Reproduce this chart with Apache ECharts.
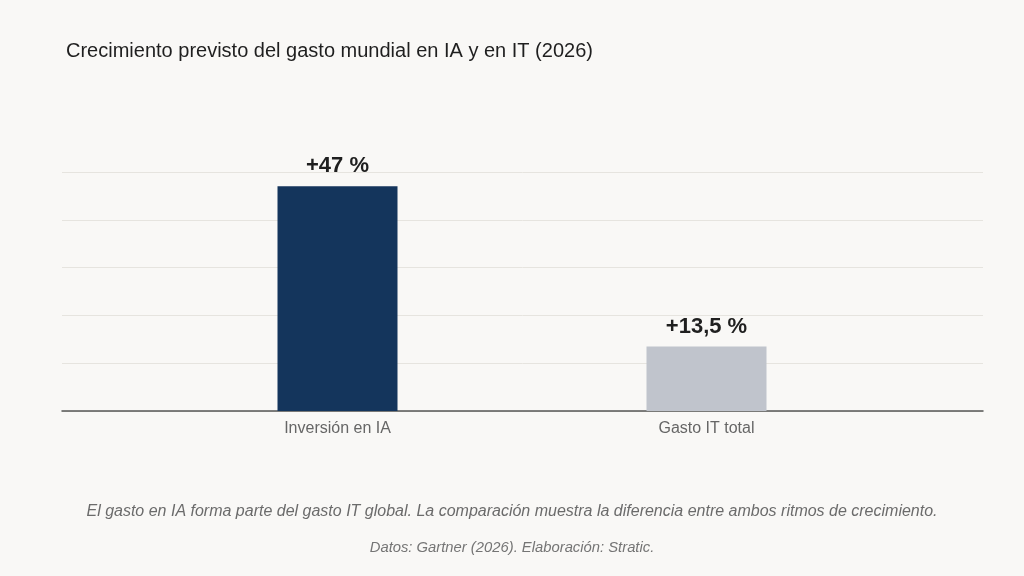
<!DOCTYPE html>
<html>
<head>
<meta charset="utf-8">
<script src="https://cdn.jsdelivr.net/npm/echarts@6/dist/echarts.min.js"></script>
<style>
  html, body { margin: 0; padding: 0; background: #f9f8f6; }
  #chart { width: 1024px; height: 576px; }
</style>
</head>
<body>
<div id="chart"></div>
<script>
var categories = ['Inversión en IA', 'Gasto IT total'];
var values = [47, 13.5];
var valueLabels = ['+47 %', '+13,5 %'];
var barColors = ['#14355c', '#c0c4cc'];
var yTicks = { min: 0, max: 50, interval: 10 };

var myChart = echarts.init(document.getElementById('chart'));
var option = {
    backgroundColor: '#f9f8f6',
    animation: false,
    textStyle: { fontFamily: 'Liberation Sans, Arial, sans-serif' },
    title: [
        {
            text: 'Crecimiento previsto del gasto mundial en IA y en IT (2026)',
            left: 61,
            top: 36,
            textStyle: { fontSize: 20, fontWeight: 'normal', color: '#1f1f1f' }
        },
        {
            text: 'El gasto en IA forma parte del gasto IT global. La comparación muestra la diferencia entre ambos ritmos de crecimiento.',
            left: 'center',
            top: 499,
            textStyle: { fontSize: 16, fontWeight: 'normal', fontStyle: 'italic', color: '#6b6b6b' }
        },
        {
            text: 'Datos: Gartner (2026). Elaboración: Stratic.',
            left: 'center',
            top: 535,
            textStyle: { fontSize: 14.8, fontWeight: 'normal', fontStyle: 'italic', color: '#757575' }
        }
    ],
    // grid 0: gridlines and baseline across the full width; grid 1: the bars
    grid: [
        { left: 62, right: 41, top: 172, bottom: 165 },
        { left: 153, right: 133, top: 172, bottom: 165 }
    ],
    xAxis: [
        {
            gridIndex: 0,
            type: 'value',
            min: 0,
            max: 1,
            axisLabel: { show: false },
            axisTick: { show: false },
            splitLine: { show: false },
            axisLine: { show: true, lineStyle: { color: '#555555', width: 1.5 } }
        },
        {
            gridIndex: 1,
            type: 'category',
            data: categories,
            axisTick: { show: false },
            axisLine: { show: false },
            axisLabel: { color: '#666666', fontSize: 16, margin: 10 }
        }
    ],
    yAxis: [
        {
            gridIndex: 0,
            type: 'value',
            min: yTicks.min,
            max: yTicks.max,
            interval: yTicks.interval,
            axisLabel: { show: false },
            axisLine: { show: false },
            axisTick: { show: false },
            splitLine: { lineStyle: { color: '#e6e4df', width: 1 } }
        },
        {
            gridIndex: 1,
            type: 'value',
            min: yTicks.min,
            max: yTicks.max,
            interval: yTicks.interval,
            axisLabel: { show: false },
            axisLine: { show: false },
            axisTick: { show: false },
            splitLine: { show: false }
        }
    ],
    series: [
        {
            type: 'bar',
            xAxisIndex: 1,
            yAxisIndex: 1,
            barWidth: 120,
            data: values.map(function (v, i) {
                return { value: v, itemStyle: { color: barColors[i] } };
            }),
            label: {
                show: true,
                position: 'top',
                distance: 9,
                fontSize: 22,
                fontWeight: 'bold',
                color: '#1f1f1f',
                formatter: function (p) { return valueLabels[p.dataIndex]; }
            }
        }
    ]
};
myChart.setOption(option);
</script>
</body>
</html>
